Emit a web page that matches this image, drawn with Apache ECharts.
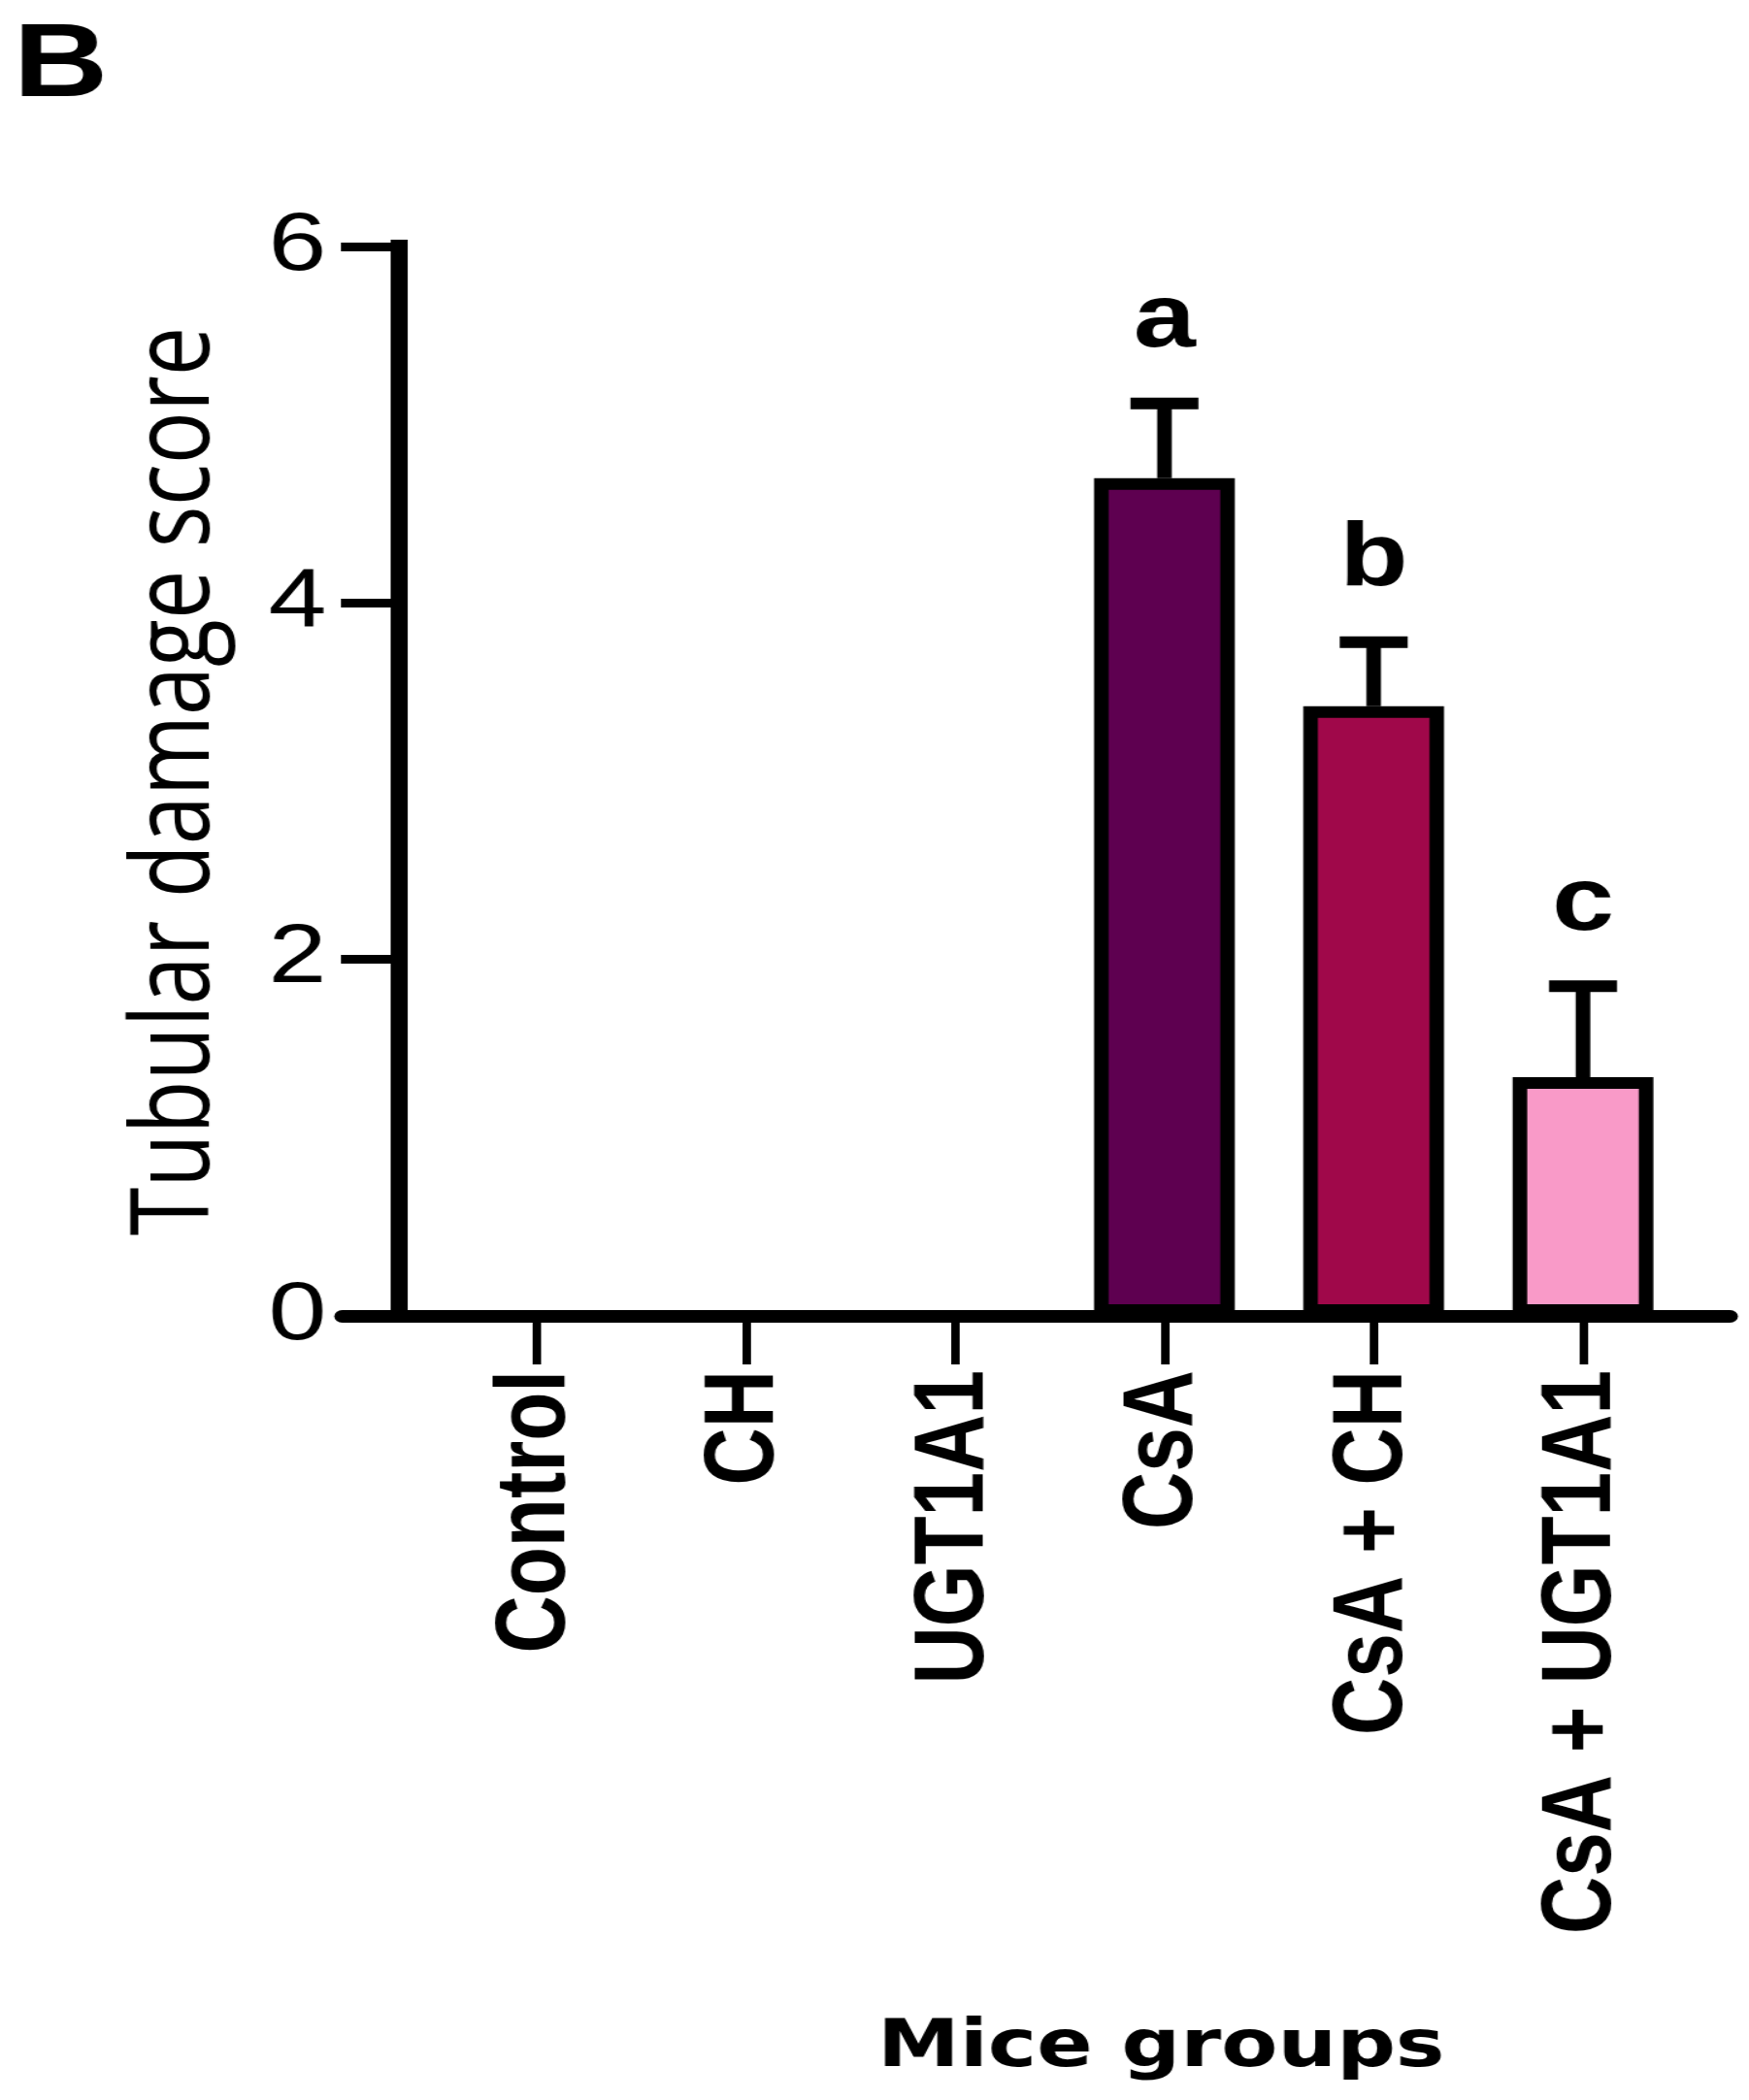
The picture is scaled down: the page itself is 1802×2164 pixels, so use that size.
<!DOCTYPE html>
<html>
<head>
<meta charset="utf-8">
<script src="https://cdn.jsdelivr.net/npm/echarts@6/dist/echarts.min.js"></script>
<style>
  html, body { margin: 0; padding: 0; background: #ffffff; overflow: hidden; }
  #chart { width: 1442px; height: 2164px; transform: scaleX(1.25); transform-origin: 0 0; }
</style>
</head>
<body>
<div id="chart"></div>
<script>
// ---- data ----
const categories = ['Control', 'CH', 'UGT1A1', 'CsA', 'CsA + CH', 'CsA + UGT1A1'];
const meanValues = [0, 0, 0, 4.70, 3.42, 1.34];
const semValues = [0, 0, 0, 0.42, 0.36, 0.51];
const sigLetters = ['', '', '', 'a', 'b', 'c'];
const barColors = ['#ffffff', '#ffffff', '#ffffff', '#5E0050', '#A0084A', '#F99AC8'];
const yMin = 0, yMax = 6, yStep = 2;
const yTitle = 'Tubular damage score';
const xTitle = 'Mice groups';
const panelLabel = 'B';

const chart = echarts.init(document.getElementById('chart'), null, { renderer: 'canvas' });

const option = {
  backgroundColor: '#ffffff',
  animation: false,
  title: [
    { text: panelLabel, left: 11, top: 15, padding: 0,
      textStyle: { fontSize: 108, fontWeight: 'bold', fontFamily: 'Liberation Sans', color: '#000' } },
    { text: xTitle, left: 957, top: 2077, padding: 0, textAlign: 'center',
      textStyle: { fontSize: 68, fontWeight: 'bold', fontFamily: 'DejaVu Sans', color: '#000' } }
  ],
  grid: [
    { left: 356, width: 1035, top: 254, bottom: 808, outerBoundsMode: 'none', containLabel: false },
    { left: 282, right: 16, top: 254, bottom: 808, outerBoundsMode: 'none', containLabel: false }
  ],
  xAxis: [
    {
      type: 'category', gridIndex: 0, data: categories,
      axisLine: { show: false },
      axisTick: { show: true, alignWithLabel: true, length: 50, lineStyle: { color: '#000', width: 7 } },
      axisLabel: { interval: 0, rotate: 90, margin: 56, fontSize: 82, fontWeight: 'bold',
                   fontFamily: 'Liberation Sans', color: '#000' },
      splitLine: { show: false }
    },
    {
      type: 'value', gridIndex: 1, min: 0, max: 1,
      axisLine: { show: true, onZero: false, lineStyle: { color: '#000', width: 13 } },
      axisTick: { show: false }, axisLabel: { show: false }, splitLine: { show: false }
    }
  ],
  yAxis: [
    {
      type: 'value', gridIndex: 0, min: yMin, max: yMax, interval: yStep, offset: 27,
      axisLine: { show: true, lineStyle: { color: '#000', width: 14, cap: 'square' } },
      axisTick: { show: true, length: 48, lineStyle: { color: '#000', width: 9 } },
      axisLabel: { margin: 60, fontSize: 86, fontFamily: 'Liberation Sans', color: '#000' },
      splitLine: { show: false },
      name: yTitle, nameLocation: 'middle', nameGap: 138,
      nameTextStyle: { fontSize: 90, fontFamily: 'Open Sans', color: '#000' }
    },
    { type: 'value', gridIndex: 1, show: false, min: 0, max: 1 }
  ],
  series: [
    {
      type: 'bar', xAxisIndex: 0, yAxisIndex: 0, z: 2,
      barWidth: 116,
      data: meanValues.map((v, i) => ({ value: v, itemStyle: { color: barColors[i] } })),
      itemStyle: { borderColor: '#000', borderWidth: 12 }
    },
    {
      type: 'custom', xAxisIndex: 0, yAxisIndex: 0, z: 3,
      data: categories.map((c, i) => [i, meanValues[i], semValues[i]]),
      renderItem: function (params, api) {
        const i = api.value(0), v = api.value(1), e = api.value(2);
        if (!e) return null;
        const base = api.coord([i, v]);
        const top = api.coord([i, v + e]);
        const half = 28;
        const children = [
          { type: 'line', shape: { x1: base[0], y1: base[1], x2: top[0], y2: top[1] },
            style: { stroke: '#000', lineWidth: 12 } },
          { type: 'line', shape: { x1: top[0] - half, y1: top[1], x2: top[0] + half, y2: top[1] },
            style: { stroke: '#000', lineWidth: 12 } }
        ];
        const letter = sigLetters[params.dataIndex];
        if (letter) {
          children.push({ type: 'text', style: { text: letter, x: top[0], y: top[1] - 84,
            fontSize: 92, fontWeight: 'bold', fontFamily: 'Liberation Sans',
            align: 'center', verticalAlign: 'middle', fill: '#000' } });
        }
        return { type: 'group', children: children };
      }
    }
  ]
};
chart.setOption(option);
</script>
</body>
</html>
